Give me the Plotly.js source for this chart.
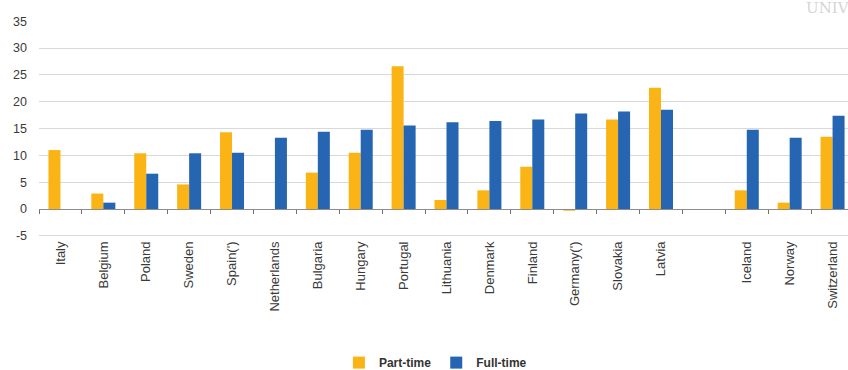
<!DOCTYPE html>
<html>
<head>
<meta charset="utf-8">
<script src="https://cdn.plot.ly/plotly-3.0.1.min.js"></script>
<style>html,body{margin:0;padding:0;background:#fff;}#chart{width:848px;height:370px;}</style>
</head>
<body>
<div id="chart"></div>
<script>
const countries = ["Italy","Belgium","Poland","Sweden","Spain(')","Netherlands","Bulgaria","Hungary","Portugal","Lithuania","Denmark","Finland","Germany(')","Slovakia","Latvia"," ","Iceland","Norway","Switzerland"];
const partTime = [11.0, 2.9, 10.4, 4.6, 14.3, null, 6.8, 10.5, 26.6, 1.7, 3.5, 7.9, -0.3, 16.7, 22.6, null, 3.5, 1.2, 13.5];
const fullTime = [null, 1.2, 6.6, 10.4, 10.5, 13.3, 14.4, 14.8, 15.6, 16.2, 16.4, 16.7, 17.8, 18.2, 18.5, null, 14.8, 13.3, 17.4];
const yTicks = [-5, 0, 5, 10, 15, 20, 25, 30, 35];
const yTickText = ["-5", "0", "5", "10", "15", "20", "25", "30", "35"];

const traces = [
  {type:"bar", name:"Part-time", x:countries, y:partTime, marker:{color:"#FBB416"}},
  {type:"bar", name:"Full-time", x:countries, y:fullTime, marker:{color:"#2565B2"}}
];

const yRange = [-5.2, 35.05];

const layout = {
  width:848, height:370,
  margin:{l:39, r:0, t:21, b:133, autoexpand:false},
  paper_bgcolor:"#fff", plot_bgcolor:"#fff",
  barmode:"group", bargap:0.44, bargroupgap:0,
  font:{family:"Liberation Sans, Arial, sans-serif", size:12, color:"#404040"},
  showlegend:true,
  legend:{orientation:"h", x:0.49, xanchor:"center", yref:"container", y:0.02, yanchor:"middle",
          font:{size:12, color:"#333", weight:"bold"}, itemwidth:30, tracegroupgap:0},
  xaxis:{type:"category", categoryorder:"array", categoryarray:countries,
         range:[-0.5, 18.36], anchor:"free", position:(0 - yRange[0]) / (yRange[1] - yRange[0]),
         showline:true, linecolor:"#8c8c8c", linewidth:1.2,
         ticks:"outside", tickson:"boundaries", ticklen:4, tickcolor:"#707070",
         tickangle:-90, ticklabelstandoff:26, showgrid:false, automargin:false,
         tickfont:{size:13, color:"#3a3a3a"}},
  yaxis:{range:yRange, tickvals:yTicks, ticktext:yTickText, showgrid:true, gridcolor:"#d9d9d9",
         gridwidth:1, zeroline:false, showline:false, ticks:"", automargin:false,
         tickfont:{size:12.5, color:"#3a3a3a"}, ticklabelstandoff:11},
  annotations:[{text:"UNIV", xref:"paper", yref:"paper", x:0.945, y:1.06, showarrow:false,
    font:{family:"DejaVu Serif, serif", size:15, color:"#d5d5d5"}, xanchor:"left", yanchor:"middle"}]
};

Plotly.newPlot("chart", traces, layout, {displayModeBar:false, staticPlot:true});
</script>
</body>
</html>
